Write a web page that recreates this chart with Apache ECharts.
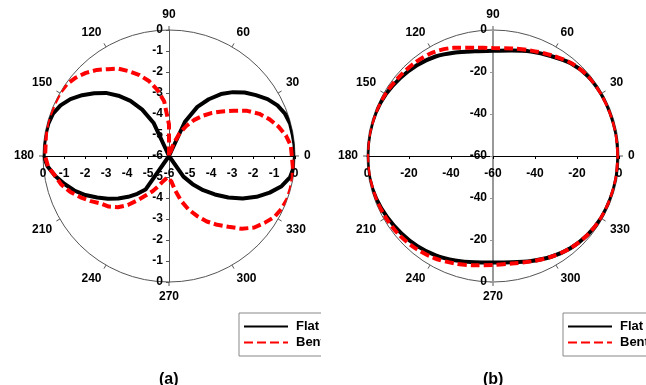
<!DOCTYPE html>
<html><head><meta charset="utf-8">
<script src="https://cdn.jsdelivr.net/npm/echarts@6/dist/echarts.min.js"></script>
<style>html,body{margin:0;padding:0;background:#fff}#c{width:646px;height:385px}</style>
</head><body><div id="c"></div>
<script>
// ---- data (values in dB) ----
const anglesA = [0,5,10,15,20,25,30,35,40,45,50,55,
  60,65,70,75,80,85,90,95,100,105,110,115,
  120,125,130,135,140,145,150,155,160,165,170,175,
  180,185,190,195,200,205,210,215,220,225,230,235,
  240,245,250,255,260,265,270,275,280,285,290,295,
  300,305,310,315,320,325,330,335,340,345,350,355];
const flatA = [0,0,-0.02,-0.03,-0.12,-0.3,-0.58,-0.95,-1.3,-1.7,-2.15,-2.7,
  -3.3,-4.2,-6,-6,-6,-6,-6,-6,-6,-6,-6,-4.25,
  -3.45,-2.8,-2.25,-1.75,-1.35,-0.95,-0.58,-0.3,-0.12,-0.05,-0.03,-0.03,
  -0.03,-0.2,-0.5,-0.85,-1.2,-1.6,-2.05,-2.45,-2.85,-3.25,-3.65,-4.05,
  -6,-6,-6,-6,-6,-6,-6,-6,-6,-6,-6,-6,
  -6,-4.8,-4.25,-3.7,-3.15,-2.55,-1.95,-1.4,-0.9,-0.45,-0.15,-0.03];
const bentA = [-0.15,-0.18,-0.35,-0.6,-0.9,-1.25,-1.7,-2.25,-2.7,-3.1,-3.5,-3.9,
  -4.35,-4.8,-5.4,-6,-6,-6,-4.5,-3.4,-2.8,-2.3,-1.9,-1.55,
  -1.2,-0.95,-0.65,-0.4,-0.2,-0.05,0,0,0,0,-0.05,-0.1,
  -0.1,-0.22,-0.5,-0.7,-1.0,-1.35,-1.7,-2.05,-2.25,-2.55,-2.95,-3.45,
  -3.85,-4.15,-4.45,-4.7,-4.85,-4.98,-5.03,-4.8,-4.35,-3.8,-3.3,-2.85,
  -2.4,-2.0,-1.6,-1.1,-0.7,-0.45,-0.2,-0.08,0,0,-0.02,-0.08];

const anglesB = [0,10,20,30,40,50,60,70,80,90,100,110,
  120,130,140,150,160,170,180,190,200,210,220,230,
  240,250,260,270,280,290,300,310,320,330,340,350];
const flatB = [-0.3,-0.3,-0.4,-0.5,-0.9,-2.4,-5.0,-7.1,-9.0,-9.9,-9.4,-7.6,
  -5.3,-3.6,-2.3,-1.1,-0.4,-0.2,-0.2,-0.2,-0.8,-1.8,-2.9,-4.0,
  -5.4,-7.1,-8.6,-9.3,-8.6,-6.8,-4.6,-2.7,-1.4,-0.6,-0.4,-0.3];
const bentB = [-0.3,-0.3,-0.4,-0.5,-0.8,-2.2,-4.6,-6.6,-8.0,-8.6,-7.6,-5.2,
  -3.0,-2.1,-1.5,-0.8,-0.3,-0.1,-0.1,-0.2,-0.6,-1.1,-1.6,-2.6,
  -3.9,-5.6,-7.2,-8.1,-8.0,-6.6,-4.6,-2.7,-1.4,-0.6,-0.4,-0.3];

const seriesNames = ['Flat','Bent'];
const angleTicks = ['0','30','60','90','120','150','180','210','240','270','300','330'];
const radialTicksA = ['0','-1','-2','-3','-4','-5','-6','-5','-4','-3','-2','-1','0'];
const radialTicksB = ['0','-20','-40','-60','-40','-20','0'];
const panelLabels = ['(a)','(b)'];

// ---- chart ----
const FONT = "'Liberation Sans', Arial, sans-serif";
const lbl = {color:'#000', fontWeight:'bold', fontSize:12, fontFamily:FONT};
const R = 126, CY = 156, CXA = 169, CXB = 493;

function closed(angles, vals){
  const d = angles.map((a,i)=>[vals[i], a]);
  d.push([vals[0], 360]);
  return d;
}
function angleAxis(idx){
  return {polarIndex:idx, type:'value', min:0, max:360, interval:30, startAngle:0, clockwise:false,
    axisLine:{lineStyle:{color:'#555', width:1}},
    axisTick:{show:true, length:4, lineStyle:{color:'#555'}},
    axisLabel:Object.assign({margin:9, formatter:v=>{const i=Math.round(v/30);return i<angleTicks.length?angleTicks[i]:'';}}, lbl),
    splitLine:{show:false}};
}
function radiusAxis(idx,min){
  return {polarIndex:idx, type:'value', min:min, max:0,
    axisLine:{show:false}, axisTick:{show:false}, axisLabel:{show:false}, splitLine:{show:false}};
}
function hiddenAxis(idx){
  return {gridIndex:idx, type:'value', show:false, min:0, max:1};
}
function scaleAxis(idx, pos, lim, step, ticks, color, width, margin){
  return {gridIndex:idx, type:'value', position:pos, min:-lim, max:lim, interval:step,
    axisLine:{show:true, onZero:false, lineStyle:{color:color, width:width}},
    axisTick:{show:true, length:3, lineStyle:{color:color, width:1}},
    axisLabel:Object.assign({margin:margin, showMinLabel:true, showMaxLabel:true,
      formatter:v=>ticks[Math.round((v+lim)/step)]}, lbl),
    splitLine:{show:false}};
}
function legend(left){
  return {left:left, top:313, orient:'vertical', data:seriesNames, selectedMode:false,
    itemWidth:44, itemHeight:14, itemGap:3, padding:[7,8,7,4],
    borderColor:'#888', borderWidth:1, borderRadius:0, backgroundColor:'#fff',
    itemStyle:{opacity:0},
    textStyle:{color:'#000', fontWeight:'bold', fontSize:13, fontFamily:FONT, padding:[0,0,0,3]}};
}
function lineSeries(name, polarIdx, data, isBent, smooth){
  return {name:name, type:'line', coordinateSystem:'polar', polarIndex:polarIdx, data:data,
    symbol:'none', showSymbol:false, clip:false, smooth:smooth, silent:true, animation:false,
    z: isBent?4:3,
    itemStyle:{color:isBent?'#ff0000':'#000000'},
    lineStyle:{color:isBent?'#ff0000':'#000000', width:4, type:isBent?[9,4]:'solid'}};
}
const G = (left, top, width, height)=>({left, top, width, height, containLabel:false, outerBoundsMode:'none', show:false});

const chart = echarts.init(document.getElementById('c'), null, {renderer:'canvas'});
chart.setOption({
  animation:false,
  backgroundColor:'#fff',
  title:[
    {text:panelLabels[0], left:159, top:372, padding:0, textStyle:{fontSize:16, fontWeight:'bold', color:'#000', fontFamily:FONT}},
    {text:panelLabels[1], left:483, top:372, padding:0, textStyle:{fontSize:16, fontWeight:'bold', color:'#000', fontFamily:FONT}}
  ],
  legend:[legend(239), legend(563)],
  polar:[{center:[CXA,CY], radius:R},{center:[CXB,CY], radius:R}],
  angleAxis:[angleAxis(0), angleAxis(1)],
  radiusAxis:[radiusAxis(0,-6), radiusAxis(1,-60)],
  grid:[
    G(CXA-R, CY-R, 2*R, R),   // 0: horizontal scale of (a)
    G(CXA, CY-R, R, 2*R),     // 1: vertical scale of (a)
    G(CXB-R, CY-R, 2*R, R),   // 2: horizontal scale of (b)
    G(CXB, CY-R, R, 2*R)      // 3: vertical scale of (b)
  ],
  xAxis:[
    scaleAxis(0,'bottom',6,1,radialTicksA,'#000',1,12),
    hiddenAxis(1),
    scaleAxis(2,'bottom',60,20,radialTicksB,'#000',1,12),
    hiddenAxis(3)
  ],
  yAxis:[
    hiddenAxis(0),
    scaleAxis(1,'left',6,1,radialTicksA,'#555',1,6),
    hiddenAxis(2),
    scaleAxis(3,'left',60,20,radialTicksB,'#999',2,6)
  ],
  graphic:[{type:'rect', shape:{x:321, y:306, width:28, height:58}, style:{fill:'#fff'}, z:100}],
  series:[
    lineSeries(seriesNames[0],0,closed(anglesA,flatA),false,false),
    lineSeries(seriesNames[1],0,closed(anglesA,bentA),true,false),
    lineSeries(seriesNames[0],1,closed(anglesB,flatB),false,0.3),
    lineSeries(seriesNames[1],1,closed(anglesB,bentB),true,0.3)
  ]
});
</script></body></html>
